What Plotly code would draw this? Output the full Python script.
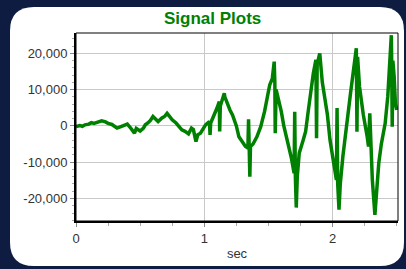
import plotly.graph_objects as go

# ---- data ----
time_sec = [0.00, 0.03, 0.05, 0.07, 0.10, 0.12, 0.14, 0.16, 0.20, 0.23, 0.25, 0.28, 0.30, 0.32, 0.35,
            0.38, 0.40, 0.42, 0.44, 0.456, 0.47, 0.48, 0.50, 0.526, 0.54, 0.56, 0.58, 0.60, 0.62,
            0.64, 0.67, 0.69, 0.71, 0.73, 0.75, 0.78, 0.80, 0.825, 0.85, 0.877, 0.90, 0.915, 0.935,
            0.95, 0.97, 0.99, 1.01, 1.04, 1.045, 1.05, 1.08, 1.10, 1.117, 1.12, 1.125, 1.14, 1.156,
            1.16, 1.18, 1.20, 1.22, 1.25, 1.27, 1.30, 1.32, 1.34, 1.345, 1.35, 1.355, 1.36, 1.38,
            1.41, 1.44, 1.47, 1.49, 1.51, 1.53, 1.545, 1.55, 1.553, 1.56, 1.58, 1.60, 1.62, 1.64,
            1.66, 1.68, 1.70, 1.705, 1.71, 1.717, 1.725, 1.74, 1.77, 1.79, 1.81, 1.83, 1.85, 1.87,
            1.875, 1.88, 1.90, 1.92, 1.94, 1.96, 1.98, 2.00, 2.03, 2.035, 2.04, 2.05, 2.06, 2.08,
            2.10, 2.12, 2.14, 2.16, 2.185, 2.19, 2.195, 2.21, 2.24, 2.27, 2.28, 2.29, 2.30, 2.31,
            2.33, 2.345, 2.36, 2.38, 2.41, 2.43, 2.44, 2.458, 2.46, 2.465, 2.47, 2.48, 2.49, 2.50]
signal_values = [-200, 100, -100, 300, 500, 900, 700, 1000, 1400, 1100, 700, 400, 0, -600, -200,
                 200, 500, -300, -1200, -2000, -700, -1000, -1400, -600, 300, 800, 1500, 2600, 1800,
                 1200, 2200, 2600, 3500, 2500, 1700, 800, -200, -1100, -1500, -2200, -600, -1000, -4300,
                 -2400, -2000, -800, 300, 1200, -2500, 800, 3000, 5000, 6700, -1500, 5500, 7500, 9000,
                 8000, 6000, 4400, 3000, 0, -3000, -4800, -5600, -6100, 1800, -5800, -14000, -5700, -5000,
                 -3000, -200, 4000, 8000, 11300, 13000, 17700, 12000, -2000, 10000, 7200, 4000, 0, -2900,
                 -6000, -9000, -13000, 3900, -14000, -22500, -14000, -7500, -4000, -1500, 4000, 9900, 14500, 18200,
                 -3400, 17000, 20000, 12000, 8100, 3000, -3900, -8500, -14900, 4900, -16000, -23100, -16000, -8500,
                 -2000, 3500, 9000, 14500, 21400, -1600, 19000, 10800, 3000, -3000, -5700, 3500, -10000, -14900,
                 -24500, -17000, -10300, -5000, 700, 8000, 13600, 25000, 20000, -200, 18000, 13600, 6000, 4400]

y_tick_values = [-20000, -10000, 0, 10000, 20000]
y_tick_labels = ["-20,000", "-10,000", "0", "10,000", "20,000"]
x_tick_values = [0, 1, 2]
x_tick_labels = ["0", "1", "2"]

W, H = 406, 269
L, R, T, B = 76, 398, 33, 221   # plot area in pixels


def px(x):
    return (x - L) / (R - L)


def py(y):
    return (B - y) / (B - T)


def rounded_rect(x0, y0, x1, y1, r):
    return (f"M {px(x0 + r)},{py(y0)} L {px(x1 - r)},{py(y0)} "
            f"Q {px(x1)},{py(y0)} {px(x1)},{py(y0 + r)} "
            f"L {px(x1)},{py(y1 - r)} Q {px(x1)},{py(y1)} {px(x1 - r)},{py(y1)} "
            f"L {px(x0 + r)},{py(y1)} Q {px(x0)},{py(y1)} {px(x0)},{py(y1 - r)} "
            f"L {px(x0)},{py(y0 + r)} Q {px(x0)},{py(y0)} {px(x0 + r)},{py(y0)} Z")


fig = go.Figure()
fig.add_trace(go.Scatter(x=time_sec, y=signal_values, mode="lines",
                         line=dict(color="#008000", width=3.5), hoverinfo="skip"))

font_family = "Liberation Sans, Arial, sans-serif"

fig.update_layout(
    width=W, height=H,
    margin=dict(l=L, r=W - R, t=T, b=H - B),
    paper_bgcolor="#0e1c42",
    plot_bgcolor="white",
    showlegend=False,
    font=dict(family=font_family, size=13, color="#333333"),
    xaxis=dict(range=[0, 2.51], tickvals=x_tick_values, ticktext=x_tick_labels,
               showgrid=True, gridcolor="#c8c8c8", gridwidth=1, zeroline=False,
               showline=True, linecolor="black", linewidth=2, mirror=False,
               ticks="outside", ticklen=4, tickcolor="#888888", tickwidth=1,
               minor=dict(dtick=0.25, tick0=0, ticks="outside", ticklen=3, tickcolor="#aaaaaa",
                          showgrid=False),
               title=dict(text="sec", standoff=4, font=dict(size=13, color="#333333"))),
    yaxis=dict(range=[-26200, 25600], tickvals=y_tick_values, ticktext=y_tick_labels,
               showgrid=True, gridcolor="#c8c8c8", gridwidth=1, zeroline=False,
               showline=True, linecolor="black", linewidth=2, mirror=False,
               ticks="outside", ticklen=4, tickcolor="#888888", tickwidth=1,
               minor=dict(dtick=2000, tick0=0, ticks="outside", ticklen=2, tickcolor="#aaaaaa",
                          showgrid=False)),
    shapes=[
        dict(type="path", xref="paper", yref="paper", layer="below",
             path=rounded_rect(10, 7, 404, 266, 24),
             fillcolor="white", line=dict(width=0)),
        dict(type="rect", xref="paper", yref="paper", x0=0, y0=0, x1=1, y1=1,
             line=dict(color="black", width=1), layer="above"),
    ],
    annotations=[
        dict(text="<b>Signal Plots</b>", xref="paper", yref="paper",
             x=px(212), y=py(18), xanchor="center", yanchor="middle", showarrow=False,
             font=dict(family=font_family, size=17, color="#008000")),
    ],
)

fig.write_html("out.html", config={"displayModeBar": False},
               post_script="document.body.style.margin='0';document.body.style.overflow='hidden';")
